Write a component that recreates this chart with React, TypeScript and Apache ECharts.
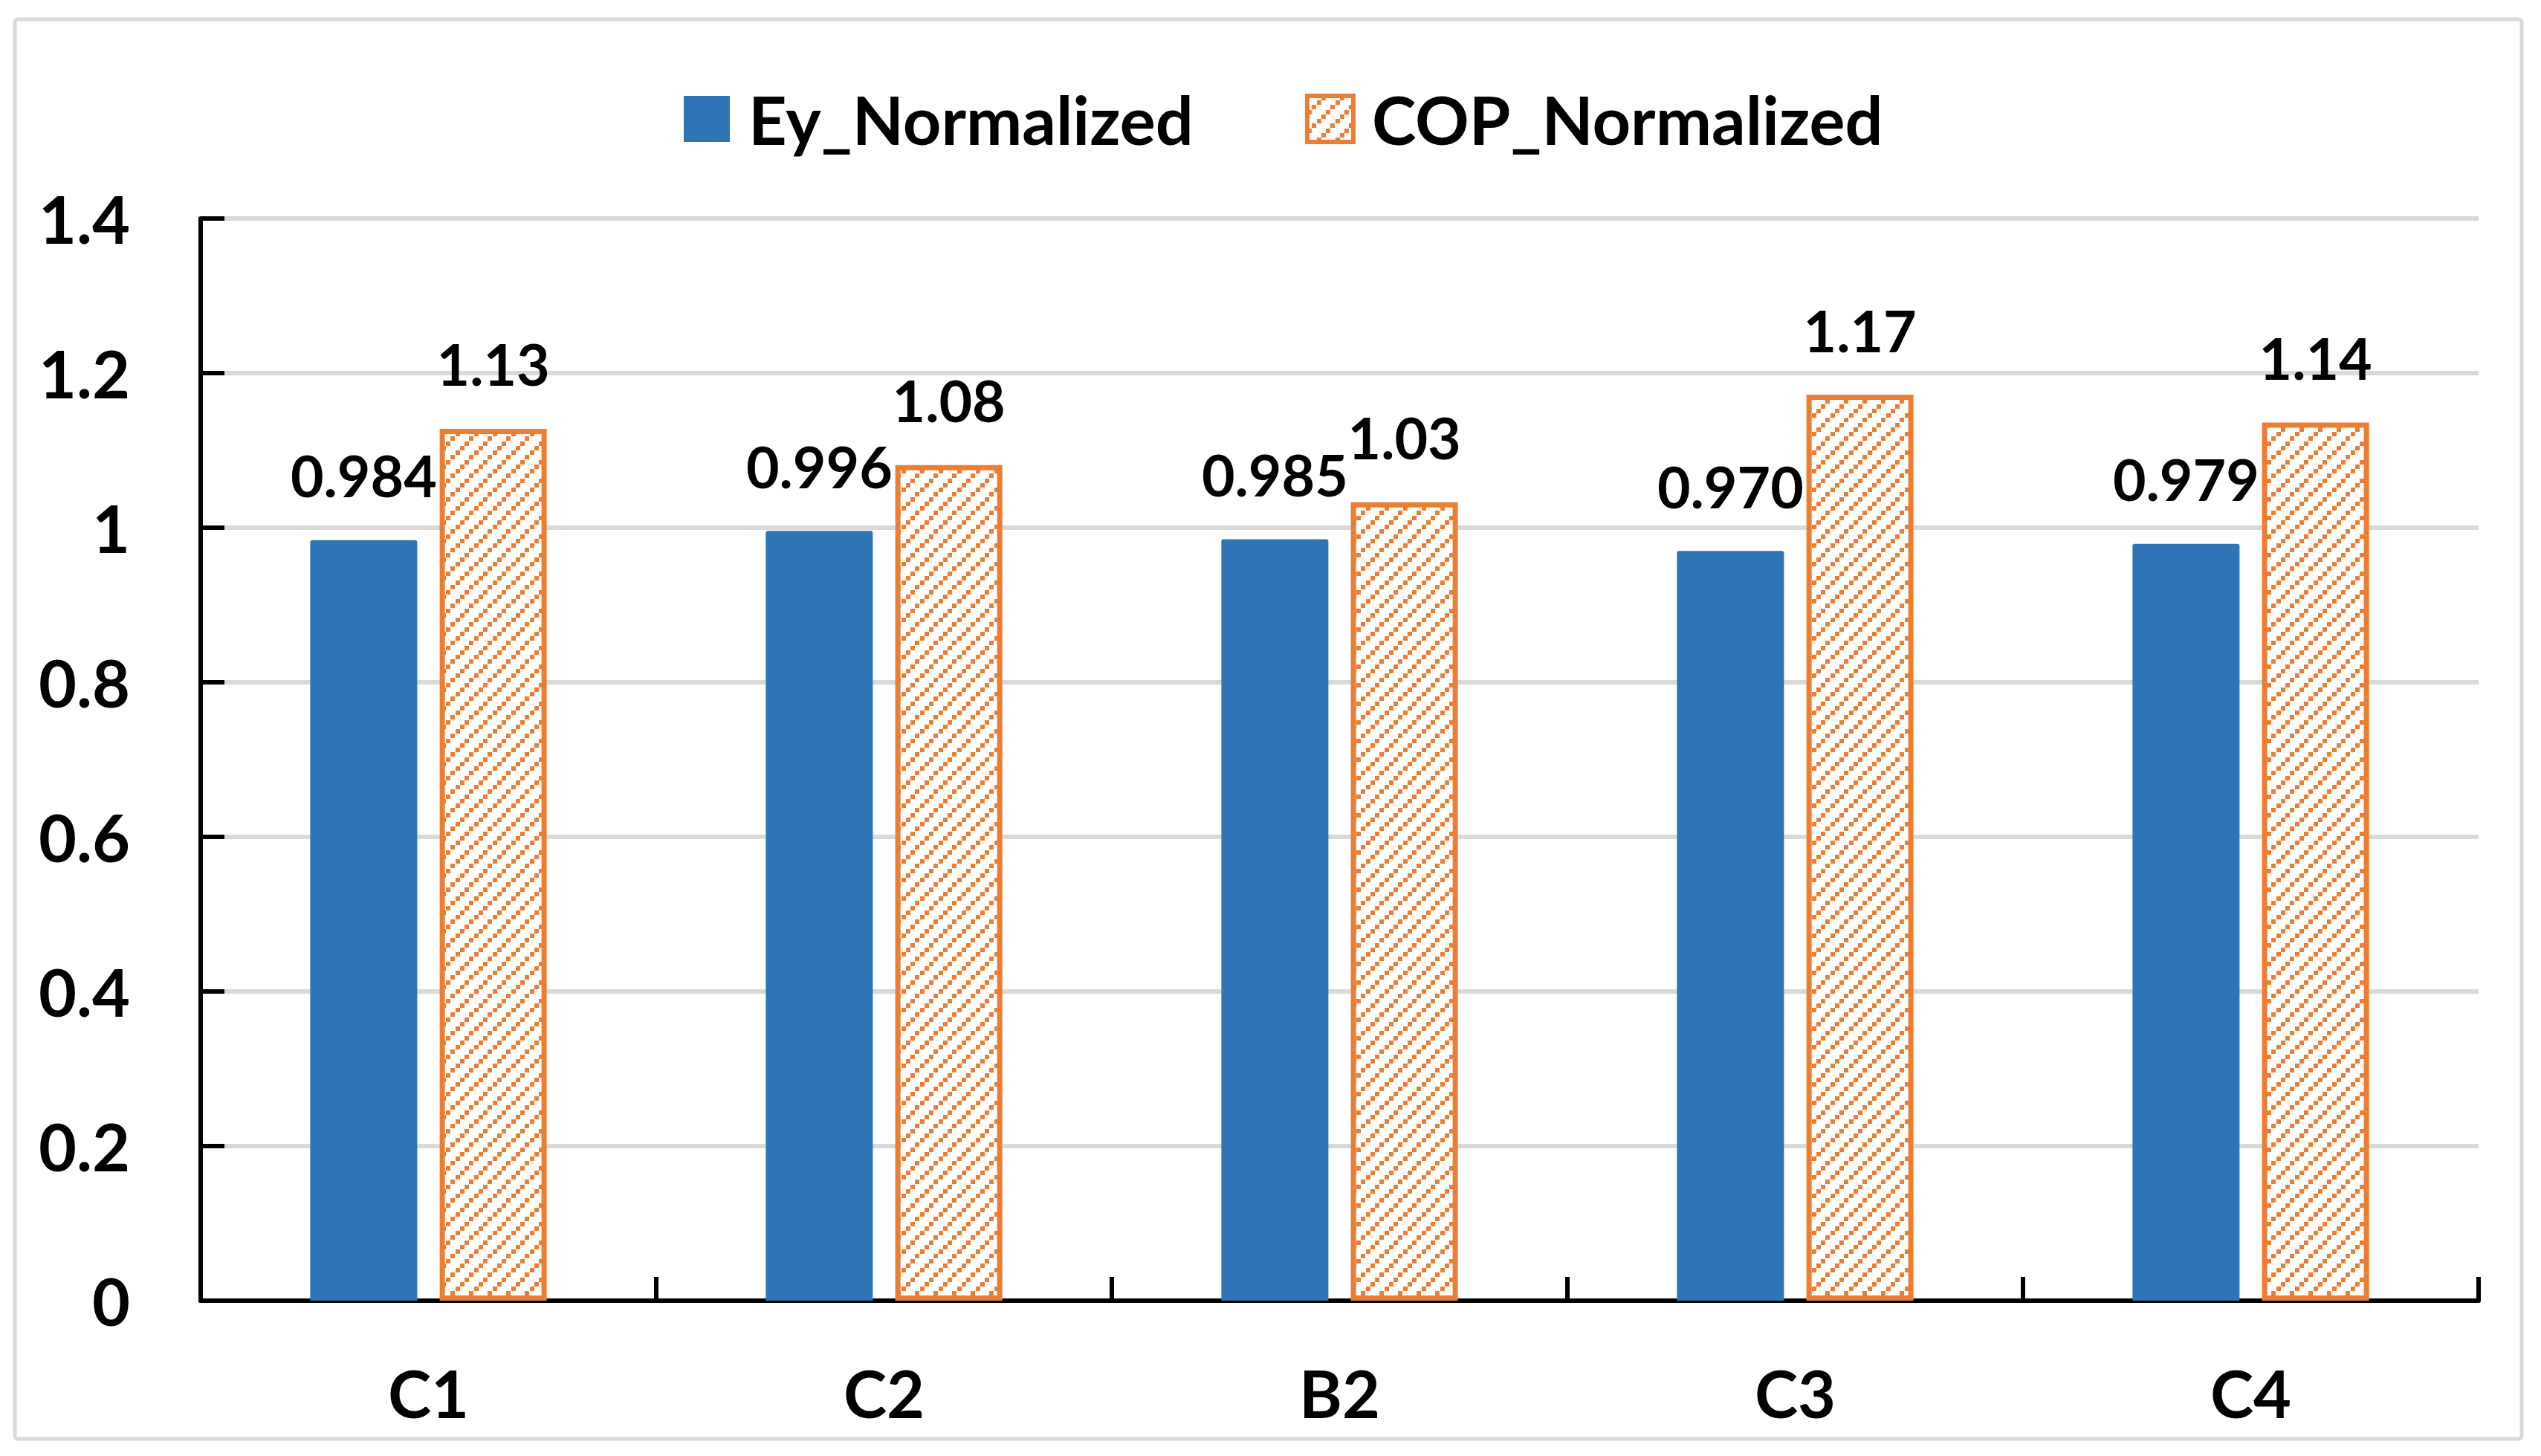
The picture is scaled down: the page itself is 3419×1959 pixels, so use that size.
import React, { useEffect, useRef } from "react";
import * as echarts from "echarts";

const categories = ["C1", "C2", "B2", "C3", "C4"];
const seriesNames = ["Ey_Normalized", "COP_Normalized"];
const eyNormalized = [0.984, 0.996, 0.985, 0.97, 0.979];
const copNormalized = [1.128, 1.081, 1.033, 1.172, 1.136];
const yMin = 0;
const yMax = 1.4;
const yInterval = 0.2;

const BLUE = "#2E75B6";
const ORANGE = "#ED7D31";
const GRID_GREY = "#D9D9D9";
const FONT = "Lato";

export default function App() {
  const ref = useRef<HTMLDivElement>(null);

  useEffect(() => {
    document.body.style.margin = "0";
    if (!ref.current) return;

    const tile = 25;
    const canvas = document.createElement("canvas");
    canvas.width = tile;
    canvas.height = tile;
    const ctx = canvas.getContext("2d")!;
    ctx.fillStyle = "#ffffff";
    ctx.fillRect(0, 0, tile, tile);
    ctx.fillStyle = ORANGE;
    for (let i = 0; i < 4; i++) {
      const x = Math.round(i * 6.25);
      const y = tile - Math.round((i + 1) * 6.25);
      ctx.fillRect(x, y, 6, 6);
    }
    const pattern: any = {
      image: canvas.toDataURL(),
      repeat: "repeat",
      imageWidth: tile,
      imageHeight: tile,
    };

    const chart = echarts.init(ref.current, null, { renderer: "svg" });

    const labelStyle = {
      show: true,
      position: "top",
      distance: 49,
      fontFamily: FONT,
      fontWeight: "bold",
      fontSize: 77,
      color: "#000",
    };

    chart.setOption({
      animation: false,
      backgroundColor: "#ffffff",
      graphic: [
        {
          type: "rect",
          shape: { x: 20, y: 26, width: 3373, height: 1910, r: 4 },
          style: { fill: "none", stroke: GRID_GREY, lineWidth: 5 },
          silent: true,
          z: -1,
        },
      ],
      legend: {
        left: 915,
        top: 110,
        itemWidth: 62,
        itemHeight: 62,
        itemGap: 150,
        icon: "rect",
        textStyle: {
          fontFamily: FONT,
          fontWeight: "bold",
          fontSize: 90,
          color: "#000",
          padding: [0, 0, 8, 20],
        },
        data: [
          { name: seriesNames[0] },
          {
            name: seriesNames[1],
            itemStyle: { borderColor: ORANGE, borderWidth: 6 },
          },
        ],
      },
      grid: {
        left: 270,
        top: 294,
        width: 3065,
        height: 1456,
      },
      xAxis: {
        type: "category",
        data: categories,
        axisLine: { show: true, lineStyle: { color: "#000", width: 6 } },
        axisTick: {
          show: true,
          inside: true,
          length: 32,
          lineStyle: { color: "#000", width: 6 },
        },
        axisLabel: {
          fontFamily: FONT,
          fontWeight: "bold",
          fontSize: 88,
          color: "#000",
          margin: 80,
        },
        splitLine: { show: false },
      },
      yAxis: {
        type: "value",
        min: yMin,
        max: yMax,
        interval: yInterval,
        axisLine: { show: true, lineStyle: { color: "#000", width: 6 } },
        axisTick: {
          show: true,
          inside: true,
          length: 32,
          lineStyle: { color: "#000", width: 6 },
        },
        axisLabel: {
          fontFamily: FONT,
          fontWeight: "bold",
          fontSize: 88,
          color: "#000",
          margin: 95,
        },
        splitLine: { show: true, lineStyle: { color: GRID_GREY, width: 6 } },
      },
      series: [
        {
          name: seriesNames[0],
          type: "bar",
          data: eyNormalized,
          barWidth: 144,
          barGap: "21%",
          itemStyle: { color: BLUE, borderRadius: [3, 3, 0, 0] },
          label: {
            ...labelStyle,
            formatter: (p: any) => Number(p.value).toFixed(3),
          },
        },
        {
          name: seriesNames[1],
          type: "bar",
          data: copNormalized,
          barWidth: 144,
          barGap: "21%",
          itemStyle: {
            color: pattern,
            borderColor: ORANGE,
            borderWidth: 7,
          },
          label: {
            ...labelStyle,
            formatter: (p: any) => Number(p.value).toFixed(2),
          },
        },
      ],
    });

    return () => {
      chart.dispose();
    };
  }, []);

  return (
    <div
      ref={ref}
      style={{ position: "fixed", left: 0, top: 0, width: 3419, height: 1959 }}
    />
  );
}
